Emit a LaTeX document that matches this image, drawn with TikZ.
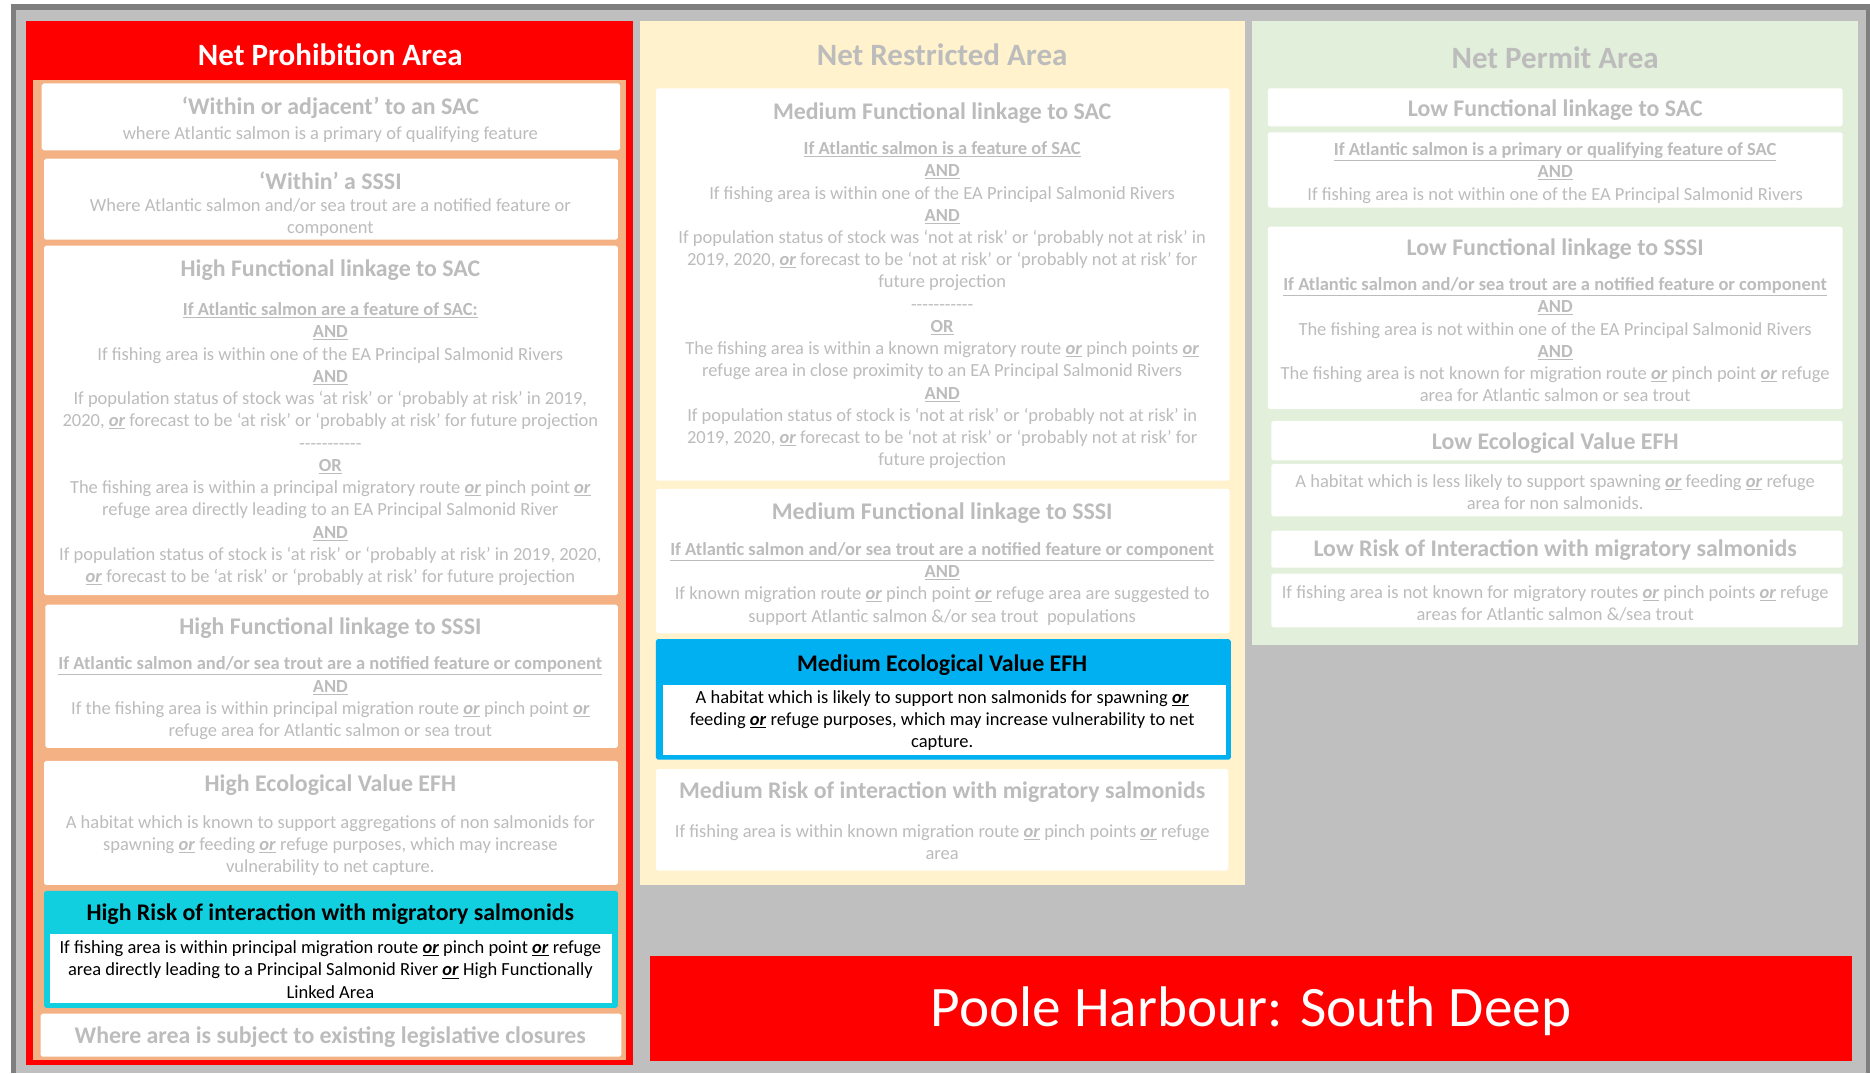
\documentclass[tikz,border=0pt]{standalone}
\usepackage{fontspec}
\setmainfont{Carlito}
\usepackage{tikz}

\definecolor{bggray}{HTML}{BFBFBF}
\definecolor{framegray}{HTML}{7F7F7F}
\definecolor{prohibred}{HTML}{FF0000}
\definecolor{prohiborange}{HTML}{F4B183}
\definecolor{restrictcream}{HTML}{FFF2CC}
\definecolor{permitgreen}{HTML}{E2EFDA}
\definecolor{riskcyan}{HTML}{12CFDF}
\definecolor{efhblue}{HTML}{00B0F0}
\definecolor{txtgray}{HTML}{BCBCBC}

\newcommand{\orr}{\underline{\textbf{\textit{or}}}}
\newcommand{\uand}{\underline{\textbf{AND}}}
\newcommand{\uor}{\underline{\textbf{OR}}}
\newcommand{\hyphs}{-{}-{}-{}-{}-{}-{}-{}-{}-{}-{}-}

\tikzset{
  paneltitle/.style={font=\bfseries\fontsize{26}{31}\selectfont, inner sep=0pt, yshift=-1pt},
  boxtitle/.style={font=\bfseries\fontsize{20}{24}\selectfont, text=txtgray, inner sep=0pt, yshift=-1.5pt},
  boxbody/.style={font=\fontsize{15.5}{18.65}\selectfont, text=txtgray, align=center, inner sep=0pt, yshift=-1.5pt},
  whitebox/.style={fill=white, rounded corners=1.5pt}
}

\begin{document}
\begin{tikzpicture}[x=1pt, y=-1pt]
        \useasboundingbox (0,0) rectangle (1568,900);
        % Frame and background
        \fill[white] (0,0) rectangle (1568,900);
        \fill[framegray] (9,3.5) rectangle (1568,900);
        \fill[bggray] (13.5,8.5) rectangle (1565,900);

        % Net Prohibition Area
        \fill[prohibred] (22,18) rectangle (531,893);
        \fill[prohiborange] (28,67) rectangle (525,889);
        \node[paneltitle, text=white] (prohibtitle) at (277,45) {Net Prohibition Area};
        \fill[whitebox] (35,70) rectangle (520,126);              % SAC
        \fill[whitebox] (37,133) rectangle (518,201);             % SSSI
        \fill[whitebox] (37,206) rectangle (518,499);             % high linkage SAC
        \fill[whitebox] (38,507) rectangle (518,627);             % high linkage SSSI
        \fill[whitebox] (37,638) rectangle (518,742);             % high EFH
        \fill[riskcyan, rounded corners=1.5pt] (37,747) rectangle (518,845);
        \fill[white] (42,783) rectangle (513,841);
        \fill[whitebox] (34,850) rectangle (521,886);             % closures
        \node[boxtitle] (sactitle) at (277,89) {‘Within or adjacent’ to an SAC};
        \node[boxbody] (sacbody) at (277,111) {where Atlantic salmon is a primary of qualifying feature};
        \node[boxtitle] (sssititle) at (277,150) {‘Within’ a SSSI};
        \node[boxbody] (sssibody) at (277,181) {Where Atlantic salmon and/or sea trout are a notified feature or\\component};
        \node[boxtitle] (highsactitle) at (277,225) {High Functional linkage to SAC};
        \node[boxbody] (highsacbody) at (277,371) {\underline{\textbf{If Atlantic salmon are a feature of SAC:}}\\
          \uand\\
          If fishing area is within one of the EA Principal Salmonid Rivers\\
          \uand\\
          If population status of stock was ‘at risk’ or ‘probably at risk’ in 2019,\\
          2020, \orr{} forecast to be ‘at risk’ or ‘probably at risk’ for future projection\\
          \hyphs\\
          \uor\\
          The fishing area is within a principal migratory route \orr{} pinch point \orr\\
          refuge area directly leading to an EA Principal Salmonid River\\
          \uand\\
          If population status of stock is ‘at risk’ or ‘probably at risk’ in 2019, 2020,\\
          \orr{} forecast to be ‘at risk’ or ‘probably at risk’ for future projection};
        \node[boxtitle] (highsssititle) at (277,525) {High Functional linkage to SSSI};
        \node[boxbody] (highsssibody) at (277,584) {\underline{\textbf{If Atlantic salmon and/or sea trout are a notified feature or component}}\\
          \uand\\
          If the fishing area is within principal migration route \orr{} pinch point \orr\\
          refuge area for Atlantic salmon or sea trout};
        \node[boxtitle] (highefhtitle) at (277,657) {High Ecological Value EFH};
        \node[boxbody] (highefhbody) at (277,707.5) {A habitat which is known to support aggregations of non salmonids for\\
          spawning \orr{} feeding \orr{} refuge purposes, which may increase\\
          vulnerability to net capture.};
        \node[boxtitle, text=black] (highrisktitle) at (277,765) {High Risk of interaction with migratory salmonids};
        \node[boxbody, text=black] (highriskbody) at (277,811.5) {If fishing area is within principal migration route \orr{} pinch point \orr{} refuge\\
          area directly leading to a Principal Salmonid River \orr{} High Functionally\\
          Linked Area};
        \node[boxtitle] (closures) at (277,868) {Where area is subject to existing legislative closures};

        % Net Restricted Area
        \fill[restrictcream] (537,18) rectangle (1044,742);
        \node[paneltitle, text=txtgray] (restricttitle) at (790,45) {Net Restricted Area};
        \fill[whitebox] (550,74) rectangle (1031,403);            % medium linkage SAC
        \fill[whitebox] (550,410) rectangle (1031,531);           % medium linkage SSSI
        \fill[efhblue, rounded corners=1.5pt] (550,536) rectangle (1032,637);
        \fill[white] (556,574) rectangle (1028,633);
        \fill[whitebox] (550,645) rectangle (1030,730);           % medium risk
        \node[boxtitle] (medsactitle) at (790,93) {Medium Functional linkage to SAC};
        \node[boxbody] (medsacbody) at (790,254.5) {\underline{\textbf{If Atlantic salmon is a feature of SAC}}\\
          \uand\\
          If fishing area is within one of the EA Principal Salmonid Rivers\\
          \uand\\
          If population status of stock was ‘not at risk’ or ‘probably not at risk’ in\\
          2019, 2020, \orr{} forecast to be ‘not at risk’ or ‘probably not at risk’ for\\
          future projection\\
          \hyphs\\
          \uor\\
          The fishing area is within a known migratory route \orr{} pinch points \orr\\
          refuge area in close proximity to an EA Principal Salmonid Rivers\\
          \uand\\
          If population status of stock is ‘not at risk’ or ‘probably not at risk’ in\\
          2019, 2020, \orr{} forecast to be ‘not at risk’ or ‘probably not at risk’ for\\
          future projection};
        \node[boxtitle] (medsssititle) at (790,429) {Medium Functional linkage to SSSI};
        \node[boxbody] (medsssibody) at (790,488) {\underline{\textbf{If Atlantic salmon and/or sea trout are a notified feature or component}}\\
          \uand\\
          If known migration route \orr{} pinch point \orr{} refuge area are suggested to\\
          support Atlantic salmon \&/or sea trout\ \ populations};
        \node[boxtitle, text=black] (medefhtitle) at (790,556) {Medium Ecological Value EFH};
        \node[boxbody, text=black] (medefhbody) at (790,602.5) {A habitat which is likely to support non salmonids for spawning \orr\\
          feeding \orr{} refuge purposes, which may increase vulnerability to net\\
          capture.};
        \node[boxtitle] (medrisktitle) at (790,663) {Medium Risk of interaction with migratory salmonids};
        \node[boxbody] (medriskbody) at (790,704.5) {If fishing area is within known migration route \orr{} pinch points \orr{} refuge\\
          area};

        % Net Permit Area
        \fill[permitgreen] (1050,18) rectangle (1558,541);
        \node[paneltitle, text=txtgray] (permittitle) at (1304,47) {Net Permit Area};
        \fill[whitebox] (1063,74) rectangle (1545,106);
        \fill[whitebox] (1063,111) rectangle (1545,174);
        \fill[whitebox] (1063,190) rectangle (1545,343);
        \fill[whitebox] (1066,353) rectangle (1545,386);
        \fill[whitebox] (1066,389) rectangle (1545,433);
        \fill[whitebox] (1066,445) rectangle (1545,476);
        \fill[whitebox] (1066,481) rectangle (1545,526);
        \node[boxtitle] (lowsactitle) at (1304,91) {Low Functional linkage to SAC};
        \node[boxbody] (lowsacbody) at (1304,143.5) {\underline{\textbf{If Atlantic salmon is a primary or qualifying feature of SAC}}\\
          \uand\\
          If fishing area is not within one of the EA Principal Salmonid Rivers};
        \node[boxtitle] (lowsssititle) at (1304,207) {Low Functional linkage to SSSI};
        \node[boxbody] (lowsssibody) at (1304,283.5) {\underline{\textbf{If Atlantic salmon and/or sea trout are a notified feature or component}}\\
          \uand\\
          The fishing area is not within one of the EA Principal Salmonid Rivers\\
          \uand\\
          The fishing area is not known for migration route \orr{} pinch point \orr{} refuge\\
          area for Atlantic salmon or sea trout};
        \node[boxtitle] (lowefhtitle) at (1304,370) {Low Ecological Value EFH};
        \node[boxbody] (lowefhbody) at (1304,411) {A habitat which is less likely to support spawning \orr{} feeding \orr{} refuge\\
          area for non salmonids.};
        \node[boxtitle] (lowrisktitle) at (1304,460) {Low Risk of Interaction with migratory salmonids};
        \node[boxbody] (lowriskbody) at (1304,504.5) {If fishing area is not known for migratory routes \orr{} pinch points \orr{} refuge\\
          areas for Atlantic salmon \&/sea trout};

        % Site banner
        \fill[prohibred] (545,802) rectangle (1553,890);
        \node[font=\fontsize{48}{56}\selectfont, text=white, inner sep=0pt] (site) at (1049,848) {Poole Harbour: South Deep};
      \end{tikzpicture}
\end{document}
